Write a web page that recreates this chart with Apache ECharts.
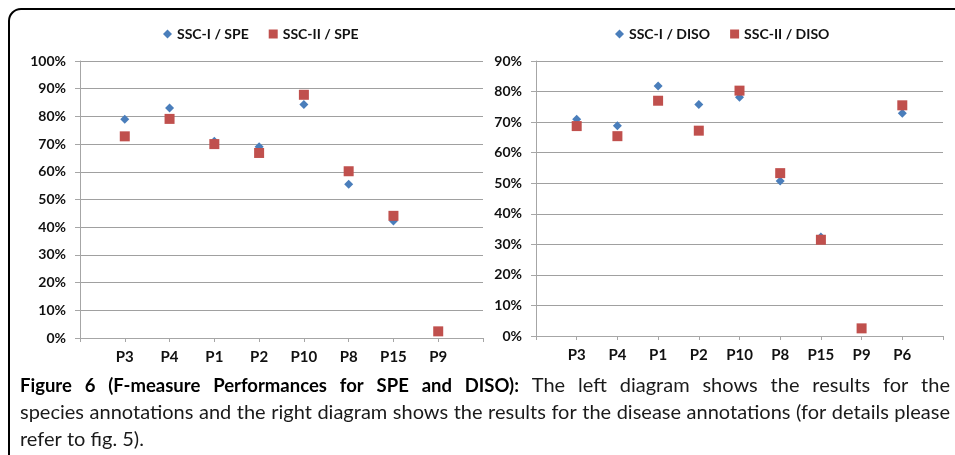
<!DOCTYPE html>
<html>
<head>
<meta charset="utf-8">
<script src="https://cdn.jsdelivr.net/npm/echarts@6/dist/echarts.min.js"></script>
<style>html,body{margin:0;padding:0;background:#fff}#c{width:955px;height:455px}</style>
</head>
<body>
<div id="c"></div>
<script>
// Left diagram (species, SPE)
const speCategories = ['P3', 'P4', 'P1', 'P2', 'P10', 'P8', 'P15', 'P9'];
const speSSC1 = [79.0, 83.0, 71.0, 69.0, 84.3, 55.5, 42.2, null];
const speSSC2 = [72.8, 79.1, 70.0, 66.8, 87.8, 60.2, 44.1, 2.4];
// Right diagram (disease, DISO)
const disoCategories = ['P3', 'P4', 'P1', 'P2', 'P10', 'P8', 'P15', 'P9', 'P6'];
const disoSSC1 = [70.9, 68.8, 81.8, 75.8, 78.1, 50.7, 32.4, null, 72.9];
const disoSSC2 = [68.7, 65.4, 77.0, 67.2, 80.3, 53.3, 31.5, 2.5, 75.5];
const speTicks = [0, 10, 20, 30, 40, 50, 60, 70, 80, 90, 100];
const disoTicks = [0, 10, 20, 30, 40, 50, 60, 70, 80, 90];
// Caption lines: [bold part, regular part]
const captionLines = [
  ['Figure 6 (F-measure Performances for SPE and DISO):', 'The left diagram shows the results for the'],
  ['', 'species annotations and the right diagram shows the results for the disease annotations (for details please'],
  ['', 'refer to fig. 5).']
];

const FONT = 'Lato';
const CAP_FONT = 'Lato';
const CAP_SIZE = 20;
const CAP_BOLD_SIZE = 18.5;
const BLUE = '#4A7EBB';
const RED = '#C0504D';

function toPoints(vals) {
  const out = [];
  vals.forEach((v, i) => { if (v !== null) out.push([i + 1, v]); });
  return out;
}

function xAxisFor(cats, gridIndex) {
  return {
    type: 'value', gridIndex, min: 0, max: cats.length + 1, interval: 1,
    axisLine: { show: true, onZero: false, lineStyle: { color: '#A6A6A6', width: 1 } },
    axisTick: { show: true, length: 4, lineStyle: { color: '#A6A6A6' } },
    splitLine: { show: false },
    axisLabel: {
      margin: 12, color: '#111', fontFamily: FONT, fontWeight: 'bold', fontSize: 15,
      formatter: v => (v >= 1 && v <= cats.length ? cats[v - 1] : '')
    }
  };
}
function yAxisFor(ticks, gridIndex) {
  return {
    type: 'value', gridIndex, min: ticks[0], max: ticks[ticks.length - 1], interval: 10,
    axisLine: { show: true, lineStyle: { color: '#A6A6A6', width: 1 } },
    axisTick: { show: true, length: 5, lineStyle: { color: '#A6A6A6' } },
    splitLine: { show: true, lineStyle: { color: '#A0A0A0', width: 1 } },
    axisLabel: { margin: 14, color: '#111', fontFamily: FONT, fontWeight: 'bold', fontSize: 14, formatter: '{value}%' }
  };
}

// Justified caption built from words
const measureCtx = document.createElement('canvas').getContext('2d');
function fontStr(bold) { return bold ? ('bold ' + CAP_BOLD_SIZE + 'px ' + CAP_FONT) : (CAP_SIZE + 'px ' + CAP_FONT); }
function captionElements() {
  const els = [];
  const x0 = 20, x1 = 950, lineMids = [386, 413, 440];
  captionLines.forEach((ln, li) => {
    const words = [];
    ln[0].split(' ').filter(Boolean).forEach(w => words.push({ w, bold: true }));
    ln[1].split(' ').filter(Boolean).forEach(w => words.push({ w, bold: false }));
    const widths = words.map(o => { measureCtx.font = fontStr(o.bold); return measureCtx.measureText(o.w).width; });
    const total = widths.reduce((a, b) => a + b, 0);
    const last = li === captionLines.length - 1;
    measureCtx.font = fontStr(false);
    const gap = last ? measureCtx.measureText(' ').width : (x1 - x0 - total) / (words.length - 1);
    let x = x0;
    words.forEach((o, i) => {
      els.push({ type: 'text', x, y: lineMids[li], style: { text: o.w, font: fontStr(o.bold), fill: o.bold ? '#000' : '#1a1a1a', verticalAlign: 'middle' } });
      x += widths[i] + gap;
    });
  });
  return els;
}

const chart = echarts.init(document.getElementById('c'), null, { renderer: 'canvas' });
const legendText = { color: '#111', fontFamily: FONT, fontWeight: 'bold', fontSize: 14 };
chart.setOption({
  animation: false,
  backgroundColor: '#fff',
  grid: [
    { left: 80, right: 472, top: 61, bottom: 117 },
    { left: 536, right: 12, top: 61, bottom: 119 }
  ],
  legend: [
    { data: ['SSC-I / SPE', 'SSC-II / SPE'], left: 158, top: 22, itemWidth: 9, itemHeight: 9, itemGap: 20, textStyle: legendText },
    { data: ['SSC-I / DISO', 'SSC-II / DISO'], left: 610, top: 22, itemWidth: 9, itemHeight: 9, itemGap: 20, textStyle: legendText }
  ],
  xAxis: [xAxisFor(speCategories, 0), xAxisFor(disoCategories, 1)],
  yAxis: [yAxisFor(speTicks, 0), yAxisFor(disoTicks, 1)],
  series: [
    { name: 'SSC-I / SPE', type: 'scatter', xAxisIndex: 0, yAxisIndex: 0, symbol: 'diamond', symbolSize: 9, itemStyle: { color: BLUE, opacity: 1 }, data: toPoints(speSSC1) },
    { name: 'SSC-II / SPE', type: 'scatter', xAxisIndex: 0, yAxisIndex: 0, symbol: 'rect', symbolSize: 10, itemStyle: { color: RED, opacity: 1 }, data: toPoints(speSSC2) },
    { name: 'SSC-I / DISO', type: 'scatter', xAxisIndex: 1, yAxisIndex: 1, symbol: 'diamond', symbolSize: 9, itemStyle: { color: BLUE, opacity: 1 }, data: toPoints(disoSSC1) },
    { name: 'SSC-II / DISO', type: 'scatter', xAxisIndex: 1, yAxisIndex: 1, symbol: 'rect', symbolSize: 10, itemStyle: { color: RED, opacity: 1 }, data: toPoints(disoSSC2) }
  ],
  graphic: [
    { type: 'rect', shape: { x: 9, y: 9, width: 1000, height: 500, r: [12, 0, 0, 0] }, style: { stroke: '#000', lineWidth: 2, fill: 'transparent' } }
  ].concat(captionElements())
});
</script>
</body>
</html>
